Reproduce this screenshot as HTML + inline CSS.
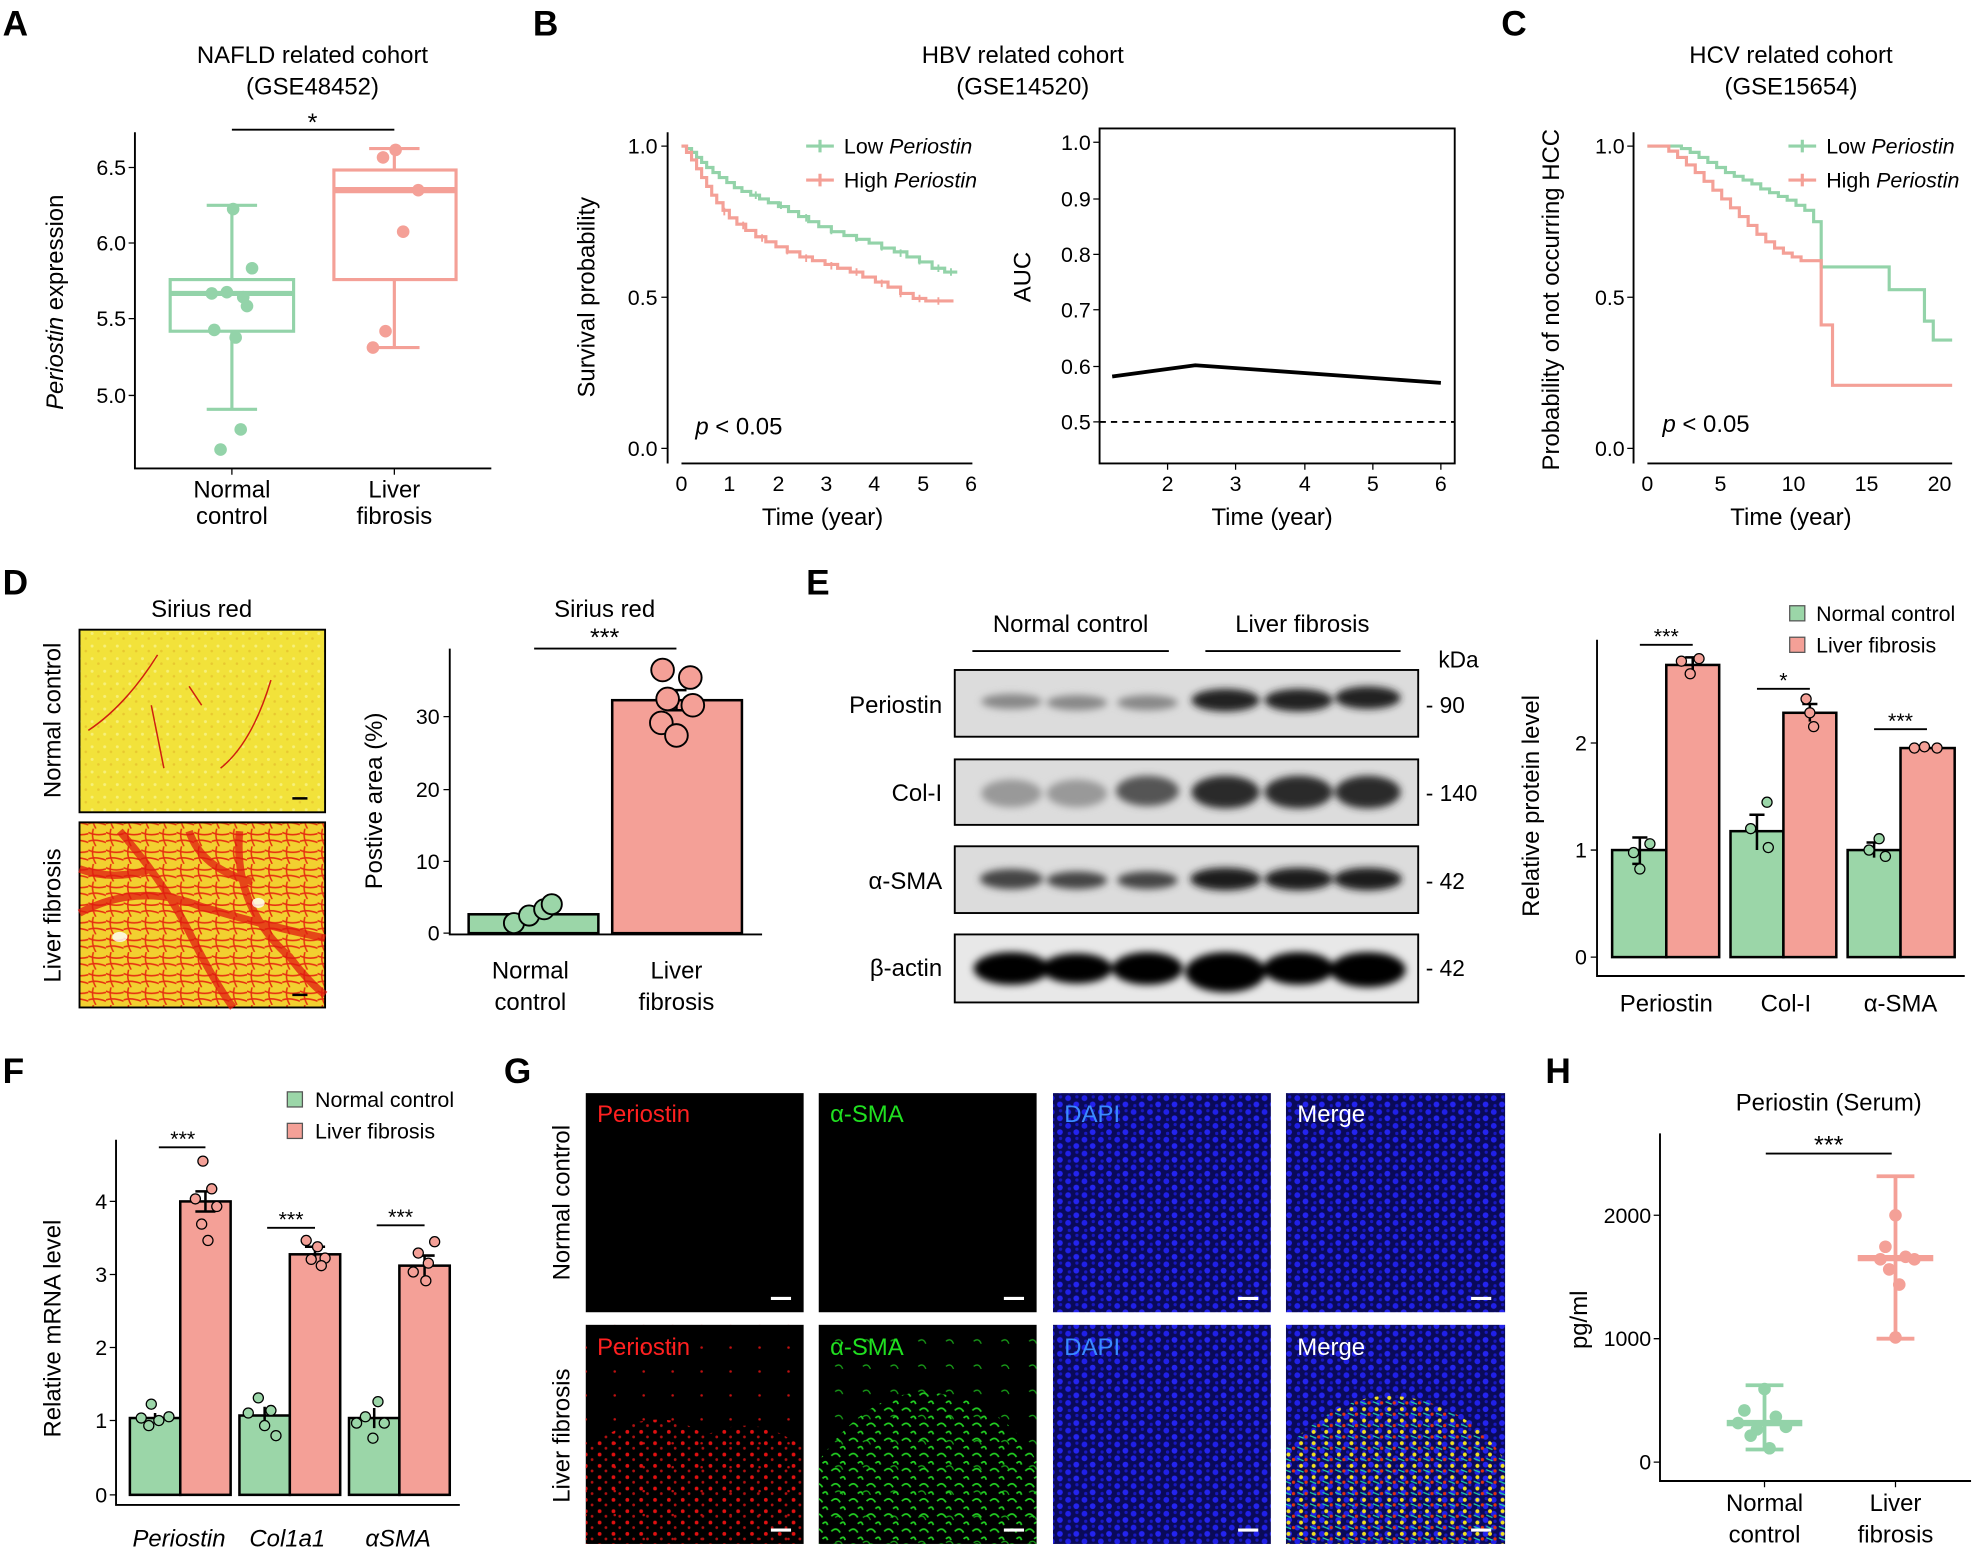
<!DOCTYPE html>
<html><head><meta charset="utf-8"><style>html,body{margin:0;padding:0;background:#fff}svg{display:block}text{font-family:"Liberation Sans",sans-serif}</style></head>
<body>
<svg width="1975" height="1549" viewBox="0 0 1568 1230" xmlns="http://www.w3.org/2000/svg" fill="#000">
<defs>
<pattern id="dapi" width="13" height="11" patternUnits="userSpaceOnUse"><rect width="13" height="11" fill="#0a0a5a"/><circle cx="3" cy="3" r="2.3" fill="#2020e8"/><circle cx="9.5" cy="8" r="2.3" fill="#2424f0"/><circle cx="10" cy="2" r="1.3" fill="#1818c0"/><circle cx="4" cy="9" r="1.3" fill="#1818c0"/></pattern>
<pattern id="sy" width="10" height="10" patternUnits="userSpaceOnUse"><rect width="10" height="10" fill="#f2e23a"/><circle cx="3" cy="3" r="1.2" fill="#f7f07a"/><circle cx="8" cy="7" r="1" fill="#e8c830"/></pattern>
<pattern id="sr" width="14" height="14" patternUnits="userSpaceOnUse"><rect width="14" height="14" fill="#f2d030"/><path d="M0 3 Q7 6 14 4 M0 10 Q6 8 14 11 M4 0 Q2 7 6 14" stroke="#e63010" stroke-width="1.2" fill="none"/></pattern>
<pattern id="rd" width="11" height="9" patternUnits="userSpaceOnUse"><rect width="11" height="9" fill="none"/><circle cx="3" cy="3" r="1.5" fill="#e01010"/><circle cx="8" cy="7" r="1.1" fill="#b01010"/></pattern>
<pattern id="rs" width="23" height="19" patternUnits="userSpaceOnUse"><circle cx="5" cy="6" r="1" fill="#c01010"/></pattern>
<pattern id="gd" width="14" height="12" patternUnits="userSpaceOnUse"><path d="M2 4 Q6 0 9 5 M9 10 Q12 7 13 11" stroke="#22d022" stroke-width="1.4" fill="none"/></pattern>
<pattern id="gs" width="22" height="20" patternUnits="userSpaceOnUse"><path d="M3 5 Q7 2 9 7" stroke="#18a018" stroke-width="1" fill="none"/></pattern>
<pattern id="yd" width="10" height="9" patternUnits="userSpaceOnUse"><circle cx="3" cy="3" r="1.6" fill="#f0e020"/><circle cx="7" cy="7" r="1.3" fill="#e03010"/><path d="M0 6 L5 8" stroke="#20d0a0" stroke-width="1"/></pattern>
<clipPath id="cr"><path d="M465 1226 L465 1150 Q520 1110 560 1140 Q600 1120 638 1150 L638 1226Z"/></clipPath>
<clipPath id="cg"><path d="M650 1226 L650 1160 Q700 1090 760 1110 Q800 1120 823 1160 L823 1226Z"/></clipPath>
<clipPath id="cm"><path d="M1021 1226 L1021 1150 Q1070 1100 1120 1110 Q1170 1120 1195 1160 L1195 1226Z"/></clipPath>
</defs>

<g font-weight="bold" font-size="28">
<text x="2" y="28">A</text><text x="423" y="28">B</text><text x="1192" y="28">C</text>
<text x="2" y="472">D</text><text x="640" y="472">E</text>
<text x="2" y="860">F</text><text x="400" y="860">G</text><text x="1227" y="860">H</text>
</g>

<!-- Panel A -->
<g font-size="19" text-anchor="middle">
<text x="248" y="50">NAFLD related cohort</text><text x="248" y="75">(GSE48452)</text>
<text x="184" y="395">Normal</text><text x="184" y="416">control</text>
<text x="313" y="395">Liver</text><text x="313" y="416">fibrosis</text>
</g>
<path d="M107 105V372H390" stroke="#000" stroke-width="1.5" fill="none"/>
<g font-size="17" text-anchor="end"><text x="100" y="139">6.5</text><text x="100" y="199">6.0</text><text x="100" y="259">5.5</text><text x="100" y="320">5.0</text></g>
<path d="M102 133H107M102 193H107M102 253H107M102 314H107M184 372V377M313 372V377" stroke="#000"/>
<text transform="translate(50,240) rotate(-90)" font-size="19" text-anchor="middle"><tspan font-style="italic">Periostin</tspan> expression</text>
<path d="M184 103H313" stroke="#000" stroke-width="1.5"/><text x="248" y="104" font-size="20" text-anchor="middle">*</text>
<g stroke="#93d3a9" stroke-width="2.5" fill="none"><rect x="135" y="222" width="98" height="41"/><path d="M135 233H233" stroke-width="4"/><path d="M184 222V163M184 263V325M164 163H204M164 325H204"/></g>
<g fill="#93d3a9"><circle cx="175" cy="357" r="5"/><circle cx="191" cy="341" r="5"/><circle cx="187" cy="268" r="5"/><circle cx="170" cy="262" r="5"/><circle cx="200" cy="213" r="5"/><circle cx="193" cy="236" r="5"/><circle cx="168" cy="233" r="5"/><circle cx="196" cy="243" r="5"/><circle cx="185" cy="166" r="5"/><circle cx="180" cy="232" r="5"/></g>
<g stroke="#f4a097" stroke-width="2.5" fill="none"><rect x="265" y="135" width="97" height="87"/><path d="M265 151H362" stroke-width="5"/><path d="M313 135V118M313 222V276M293 118H333M293 276H333"/></g>
<g fill="#f4a097"><circle cx="314" cy="119" r="5"/><circle cx="304" cy="125" r="5"/><circle cx="320" cy="184" r="5"/><circle cx="306" cy="263" r="5"/><circle cx="296" cy="276" r="5"/><circle cx="332" cy="151" r="5"/></g>

<!-- Panel B -->
<g font-size="19" text-anchor="middle"><text x="812" y="50">HBV related cohort</text><text x="812" y="75">(GSE14520)</text>
<text x="653" y="417">Time (year)</text><text x="1010" y="417">Time (year)</text></g>
<path d="M530 105V368M541 368H772" stroke="#000" stroke-width="1.5" fill="none"/>
<g font-size="17" text-anchor="end"><text x="522" y="122">1.0</text><text x="522" y="242">0.5</text><text x="522" y="362">0.0</text></g>
<path d="M525 116H530M525 236H530M525 356H530" stroke="#000"/>
<g font-size="17" text-anchor="middle"><text x="541" y="390">0</text><text x="579" y="390">1</text><text x="618" y="390">2</text><text x="656" y="390">3</text><text x="694" y="390">4</text><text x="733" y="390">5</text><text x="771" y="390">6</text></g>
<text transform="translate(472,236) rotate(-90)" font-size="19" text-anchor="middle">Survival probability</text>
<text x="552" y="345" font-size="19"><tspan font-style="italic">p</tspan> &lt; 0.05</text>
<path d="M541 116H545V118H549V121H553V125H557V129H561V133H566V137H571V141H577V145H583V149H589V152H596V155H603V158H610V161H618V164H626V168H634V172H642V176H650V180H660V184H670V187H680V190H690V193H700V197H710V200H720V204H730V208H740V213H750V216H760" stroke="#93d3a9" stroke-width="2.5" fill="none"/>
<path d="M541 116H545V121H549V127H553V134H557V141H561V148H565V155H569V161H574V167H579V173H585V178H592V183H600V188H608V192H616V196H625V200H635V204H645V207H655V210H665V213H675V216H685V220H695V224H705V228H715V233H725V237H735V239H757" stroke="#f4a097" stroke-width="2.5" fill="none"/>
<g stroke="#93d3a9" stroke-width="1.5"><path d="M600 152v6M620 160v6M640 170v6M660 180v6M680 186v6M700 193v6M715 198v6M730 204v6M745 210v6M755 213v6"/></g>
<g stroke="#f4a097" stroke-width="1.5"><path d="M575 165v6M590 176v6M605 186v6M625 196v6M640 202v6M660 208v6M680 213v6M700 222v6M715 230v6M730 234v6M745 236v6"/></g>
<path d="M640 116H662M651 111V121" stroke="#93d3a9" stroke-width="2.5"/><path d="M640 143H662M651 138V148" stroke="#f4a097" stroke-width="2.5"/>
<text x="670" y="122" font-size="17">Low  <tspan font-style="italic">Periostin</tspan></text><text x="670" y="149" font-size="17">High <tspan font-style="italic">Periostin</tspan></text>
<rect x="873" y="102" width="282" height="266" fill="none" stroke="#000" stroke-width="1.5"/>
<g font-size="17" text-anchor="end"><text x="866" y="119">1.0</text><text x="866" y="164">0.9</text><text x="866" y="208">0.8</text><text x="866" y="252">0.7</text><text x="866" y="297">0.6</text><text x="866" y="341">0.5</text></g>
<path d="M868 113H873M868 158H873M868 202H873M868 246H873M868 291H873M868 335H873M927 368V373M981 368V373M1036 368V373M1090 368V373M1144 368V373" stroke="#000"/>
<g font-size="17" text-anchor="middle"><text x="927" y="390">2</text><text x="981" y="390">3</text><text x="1036" y="390">4</text><text x="1090" y="390">5</text><text x="1144" y="390">6</text></g>
<text transform="translate(818,220) rotate(-90)" font-size="19" text-anchor="middle">AUC</text>
<path d="M883 299L949 290L1144 304" stroke="#000" stroke-width="3" fill="none"/>
<path d="M873 335H1155" stroke="#000" stroke-width="1.5" stroke-dasharray="5,4"/>

<!-- Panel C -->
<g font-size="19" text-anchor="middle"><text x="1422" y="50">HCV related cohort</text><text x="1422" y="75">(GSE15654)</text><text x="1422" y="417">Time (year)</text></g>
<path d="M1297 105V368M1308 368H1550" stroke="#000" stroke-width="1.5" fill="none"/>
<g font-size="17" text-anchor="end"><text x="1290" y="122">1.0</text><text x="1290" y="242">0.5</text><text x="1290" y="362">0.0</text></g>
<path d="M1292 116H1297M1292 236H1297M1292 356H1297" stroke="#000"/>
<g font-size="17" text-anchor="middle"><text x="1308" y="390">0</text><text x="1366" y="390">5</text><text x="1424" y="390">10</text><text x="1482" y="390">15</text><text x="1540" y="390">20</text></g>
<text transform="translate(1238,238) rotate(-90)" font-size="19" text-anchor="middle">Probability of not occurring HCC</text>
<text x="1320" y="343" font-size="19"><tspan font-style="italic">p</tspan> &lt; 0.05</text>
<path d="M1308 116H1335V118H1342V121H1349V125H1356V129H1363V133H1370V137H1377V140H1384V143H1391V146H1398V150H1405V153H1412V156H1419V159H1426V163H1433V167H1440V176H1446V212H1500V230H1528V255H1535V270H1550" stroke="#93d3a9" stroke-width="2.5" fill="none"/>
<path d="M1308 116H1325V120H1332V125H1339V131H1346V137H1353V144H1360V151H1367V158H1374V165H1381V172H1388V179H1395V186H1402V192H1409V197H1416V201H1423V204H1430V207H1446V258H1455V306H1550" stroke="#f4a097" stroke-width="2.5" fill="none"/>
<path d="M1420 116H1442M1431 111V121" stroke="#93d3a9" stroke-width="2.5"/><path d="M1420 143H1442M1431 138V148" stroke="#f4a097" stroke-width="2.5"/>
<text x="1450" y="122" font-size="17">Low  <tspan font-style="italic">Periostin</tspan></text><text x="1450" y="149" font-size="17">High <tspan font-style="italic">Periostin</tspan></text>

<!-- Panel D -->
<text x="160" y="490" font-size="19" text-anchor="middle">Sirius red</text>
<rect x="63" y="500" width="195" height="145" fill="url(#sy)" stroke="#000" stroke-width="1.5"/>
<path d="M70 580Q100 560 125 520M150 545L160 560M175 610Q200 590 215 540M120 560L130 610" stroke="#d02010" stroke-width="1.2" fill="none"/>
<rect x="63" y="653" width="195" height="147" fill="url(#sr)" stroke="#000" stroke-width="1.5"/>
<path d="M63 725Q110 700 160 720Q210 735 258 745M95 660Q130 700 150 740Q170 780 185 800M190 660Q185 720 230 760Q245 780 258 790M63 690Q90 700 120 690M150 660Q160 690 200 700" stroke="#e01a10" stroke-width="6" fill="none" opacity="0.75"/>
<ellipse cx="95" cy="744" rx="6" ry="4" fill="#fff" opacity="0.8"/><ellipse cx="205" cy="717" rx="5" ry="4" fill="#fff" opacity="0.8"/>
<path d="M232 634H244M232 790H244" stroke="#000" stroke-width="2"/>
<text transform="translate(48,572) rotate(-90)" font-size="19" text-anchor="middle">Normal control</text>
<text transform="translate(48,727) rotate(-90)" font-size="19" text-anchor="middle">Liver fibrosis</text>
<text x="480" y="490" font-size="19" text-anchor="middle">Sirius red</text>
<path d="M357 515V742H605" stroke="#000" stroke-width="1.5" fill="none"/>
<g font-size="17" text-anchor="end"><text x="349" y="747">0</text><text x="349" y="690">10</text><text x="349" y="633">20</text><text x="349" y="575">30</text></g>
<path d="M352 741H357M352 684H357M352 627H357M352 569H357" stroke="#000"/>
<text transform="translate(303,636) rotate(-90)" font-size="19" text-anchor="middle">Postive area (%)</text>
<rect x="372" y="726" width="103" height="15" fill="#9bd6a8" stroke="#000" stroke-width="2"/>
<rect x="486" y="556" width="103" height="185" fill="#f4a097" stroke="#000" stroke-width="2"/>
<path d="M537 548V564M529 548H545M529 564H545" stroke="#000" stroke-width="2"/>
<g fill="#9bd6a8" stroke="#000" stroke-width="1.5"><circle cx="408" cy="733" r="8"/><circle cx="420" cy="727" r="8"/><circle cx="432" cy="722" r="8"/><circle cx="438" cy="718" r="8"/></g>
<g fill="#f4a097" stroke="#000" stroke-width="1.5"><circle cx="526" cy="532" r="9"/><circle cx="548" cy="538" r="9"/><circle cx="530" cy="555" r="9"/><circle cx="550" cy="560" r="9"/><circle cx="525" cy="574" r="9"/><circle cx="537" cy="584" r="9"/></g>
<path d="M424 515H537" stroke="#000" stroke-width="1.5"/><text x="480" y="513" font-size="20" text-anchor="middle">***</text>
<g font-size="19" text-anchor="middle"><text x="421" y="777">Normal</text><text x="421" y="802">control</text><text x="537" y="777">Liver</text><text x="537" y="802">fibrosis</text></g>

<!-- Panel E blots -->
<g font-size="19" text-anchor="middle"><text x="850" y="502">Normal control</text><text x="1034" y="502">Liver fibrosis</text></g>
<path d="M772 517H928M957 517H1112" stroke="#000" stroke-width="1.5"/>
<text x="1158" y="530" font-size="18" text-anchor="middle">kDa</text>
<g font-size="19" text-anchor="end"><text x="748" y="566">Periostin</text><text x="748" y="636">Col-I</text><text x="748" y="706">α-SMA</text><text x="748" y="775">β-actin</text></g>
<g font-size="18"><text x="1132" y="566">- 90</text><text x="1132" y="636">- 140</text><text x="1132" y="706">- 42</text><text x="1132" y="775">- 42</text></g>
<g stroke="#000" stroke-width="1.5" fill="#dcdcdc"><rect x="758" y="532" width="368" height="53"/><rect x="758" y="603" width="368" height="52"/><rect x="758" y="672" width="368" height="53"/><rect x="758" y="742" width="368" height="54" fill="#e8e8e8"/></g>
<g filter="url(#bl)">
</g>
<defs><filter id="bl2" x="-20%" y="-50%" width="140%" height="200%"><feGaussianBlur stdDeviation="3"/></filter></defs>
<g filter="url(#bl2)">
<g fill="#888"><ellipse cx="803" cy="557" rx="24" ry="6"/><ellipse cx="855" cy="558" rx="24" ry="6"/><ellipse cx="911" cy="558" rx="24" ry="6"/></g>
<g fill="#222"><ellipse cx="973" cy="556" rx="27" ry="9"/><ellipse cx="1031" cy="556" rx="27" ry="9"/><ellipse cx="1086" cy="554" rx="26" ry="9"/></g>
<g fill="#999"><ellipse cx="803" cy="630" rx="24" ry="11"/><ellipse cx="855" cy="630" rx="24" ry="11"/></g><ellipse cx="911" cy="628" rx="25" ry="12" fill="#555"/>
<g fill="#2a2a2a"><ellipse cx="973" cy="629" rx="27" ry="13"/><ellipse cx="1031" cy="629" rx="27" ry="13"/><ellipse cx="1086" cy="629" rx="26" ry="13"/></g>
<g fill="#444"><ellipse cx="803" cy="698" rx="25" ry="8"/><ellipse cx="855" cy="699" rx="24" ry="7"/><ellipse cx="911" cy="699" rx="24" ry="7"/></g>
<g fill="#1a1a1a"><ellipse cx="973" cy="698" rx="28" ry="9"/><ellipse cx="1031" cy="698" rx="27" ry="9"/><ellipse cx="1086" cy="698" rx="27" ry="9"/></g>
<g fill="#000"><ellipse cx="803" cy="769" rx="30" ry="13"/><ellipse cx="855" cy="769" rx="28" ry="12"/><ellipse cx="911" cy="769" rx="28" ry="13"/><ellipse cx="973" cy="772" rx="32" ry="16"/><ellipse cx="1031" cy="769" rx="28" ry="13"/><ellipse cx="1086" cy="770" rx="30" ry="14"/></g>
</g>

<!-- Panel E bars -->
<path d="M1268 508V775H1560" stroke="#000" stroke-width="1.5" fill="none"/>
<g font-size="17" text-anchor="end"><text x="1260" y="766">0</text><text x="1260" y="681">1</text><text x="1260" y="596">2</text></g>
<path d="M1263 760H1268M1263 675H1268M1263 590H1268" stroke="#000"/>
<text transform="translate(1222,640) rotate(-90)" font-size="19" text-anchor="middle">Relative protein level</text>
<g stroke="#000" stroke-width="2"><rect x="1280" y="675" width="43" height="85" fill="#9bd6a8"/><rect x="1323" y="528" width="42" height="232" fill="#f4a097"/><rect x="1374" y="660" width="42" height="100" fill="#9bd6a8"/><rect x="1416" y="566" width="42" height="194" fill="#f4a097"/><rect x="1467" y="675" width="42" height="85" fill="#9bd6a8"/><rect x="1509" y="594" width="43" height="166" fill="#f4a097"/>
<path d="M1302 665V686M1296 665H1308M1296 686H1302M1344 522V534M1338 522H1350M1395 647V675M1389 647H1401M1437 559V573M1431 559H1443M1488 669V681M1482 669H1494M1530 592V596" fill="none"/></g>
<g stroke="#000" stroke-width="1"><g fill="#9bd6a8"><circle cx="1310" cy="670" r="4"/><circle cx="1297" cy="677" r="4"/><circle cx="1302" cy="690" r="4"/><circle cx="1403" cy="637" r="4"/><circle cx="1390" cy="658" r="4"/><circle cx="1404" cy="673" r="4"/><circle cx="1492" cy="666" r="4"/><circle cx="1484" cy="675" r="4"/><circle cx="1497" cy="680" r="4"/></g>
<g fill="#f4a097"><circle cx="1335" cy="525" r="4"/><circle cx="1349" cy="523" r="4"/><circle cx="1342" cy="535" r="4"/><circle cx="1434" cy="555" r="4"/><circle cx="1437" cy="566" r="4"/><circle cx="1440" cy="577" r="4"/><circle cx="1520" cy="594" r="4"/><circle cx="1528" cy="593" r="4"/><circle cx="1538" cy="594" r="4"/></g></g>
<path d="M1302 512H1344M1395 547H1437M1488 579H1530" stroke="#000" stroke-width="1.5"/>
<g font-size="17" text-anchor="middle"><text x="1323" y="511">***</text><text x="1416" y="546">*</text><text x="1509" y="578">***</text></g>
<rect x="1421" y="481" width="12" height="12" fill="#9bd6a8" stroke="#555"/><rect x="1421" y="506" width="12" height="12" fill="#f4a097" stroke="#555"/>
<g font-size="17"><text x="1442" y="493">Normal control</text><text x="1442" y="518">Liver fibrosis</text></g>
<g font-size="19" text-anchor="middle"><text x="1323" y="803">Periostin</text><text x="1418" y="803">Col-I</text><text x="1509" y="803">α-SMA</text></g>

<!-- Panel F -->
<path d="M92 905V1195H365" stroke="#000" stroke-width="1.5" fill="none"/>
<g font-size="17" text-anchor="end"><text x="85" y="1193">0</text><text x="85" y="1134">1</text><text x="85" y="1076">2</text><text x="85" y="1018">3</text><text x="85" y="960">4</text></g>
<path d="M87 1187H92M87 1128H92M87 1070H92M87 1012H92M87 954H92" stroke="#000"/>
<text transform="translate(48,1055) rotate(-90)" font-size="19" text-anchor="middle">Relative  mRNA level</text>
<g stroke="#000" stroke-width="2"><rect x="103" y="1126" width="40" height="61" fill="#9bd6a8"/><rect x="143" y="954" width="40" height="233" fill="#f4a097"/><rect x="190" y="1124" width="40" height="63" fill="#9bd6a8"/><rect x="230" y="996" width="40" height="191" fill="#f4a097"/><rect x="277" y="1126" width="40" height="61" fill="#9bd6a8"/><rect x="317" y="1005" width="40" height="182" fill="#f4a097"/>
<path d="M163 946V962M155 946H171M155 962H171M250 990V1002M242 990H258M337 997V1013M329 997H345M123 1122V1130M210 1117V1131M297 1118V1134" fill="none"/></g>
<g stroke="#000" stroke-width="1"><g fill="#9bd6a8"><circle cx="120" cy="1115" r="4"/><circle cx="112" cy="1126" r="4"/><circle cx="126" cy="1128" r="4"/><circle cx="134" cy="1125" r="4"/><circle cx="118" cy="1132" r="4"/><circle cx="205" cy="1110" r="4"/><circle cx="197" cy="1122" r="4"/><circle cx="215" cy="1120" r="4"/><circle cx="210" cy="1132" r="4"/><circle cx="219" cy="1140" r="4"/><circle cx="300" cy="1113" r="4"/><circle cx="290" cy="1125" r="4"/><circle cx="305" cy="1130" r="4"/><circle cx="296" cy="1142" r="4"/><circle cx="283" cy="1130" r="4"/></g>
<g fill="#f4a097"><circle cx="161" cy="922" r="4"/><circle cx="168" cy="944" r="4"/><circle cx="155" cy="952" r="4"/><circle cx="172" cy="958" r="4"/><circle cx="160" cy="972" r="4"/><circle cx="165" cy="985" r="4"/><circle cx="243" cy="985" r="4"/><circle cx="252" cy="990" r="4"/><circle cx="258" cy="999" r="4"/><circle cx="247" cy="1000" r="4"/><circle cx="255" cy="1005" r="4"/><circle cx="345" cy="986" r="4"/><circle cx="332" cy="995" r="4"/><circle cx="340" cy="1003" r="4"/><circle cx="328" cy="1010" r="4"/><circle cx="338" cy="1017" r="4"/></g></g>
<path d="M126 911H163M212 975H250M299 973H337" stroke="#000" stroke-width="1.5"/>
<g font-size="17" text-anchor="middle"><text x="145" y="910">***</text><text x="231" y="974">***</text><text x="318" y="972">***</text></g>
<rect x="228" y="867" width="12" height="12" fill="#9bd6a8" stroke="#555"/><rect x="228" y="892" width="12" height="12" fill="#f4a097" stroke="#555"/>
<g font-size="17"><text x="250" y="879">Normal control</text><text x="250" y="904">Liver fibrosis</text></g>
<g font-size="19" text-anchor="middle" font-style="italic"><text x="142" y="1228">Periostin</text><text x="228" y="1228">Col1a1</text><text x="316" y="1228">αSMA</text></g>

<!-- Panel G -->
<rect x="465" y="868" width="173" height="174" fill="#000"/>
<rect x="650" y="868" width="173" height="174" fill="#000"/>
<rect x="836" y="868" width="173" height="174" fill="url(#dapi)"/>
<rect x="1021" y="868" width="174" height="174" fill="url(#dapi)"/>
<rect x="465" y="1052" width="173" height="174" fill="#000"/>
<rect x="465" y="1052" width="173" height="174" fill="url(#rs)"/>
<rect x="465" y="1100" width="173" height="126" fill="url(#rd)" clip-path="url(#cr)"/>
<rect x="650" y="1052" width="173" height="174" fill="#000"/>
<rect x="650" y="1052" width="173" height="174" fill="url(#gs)"/>
<rect x="650" y="1080" width="173" height="146" fill="url(#gd)" clip-path="url(#cg)"/>
<rect x="836" y="1052" width="173" height="174" fill="url(#dapi)"/>
<rect x="1021" y="1052" width="174" height="174" fill="url(#dapi)"/>
<rect x="1021" y="1090" width="174" height="136" fill="url(#yd)" clip-path="url(#cm)"/>
<g font-size="19"><text x="474" y="891" fill="#ff2020">Periostin</text><text x="659" y="891" fill="#20e020">α-SMA</text><text x="845" y="891" fill="#3a8aff">DAPI</text><text x="1030" y="891" fill="#fff">Merge</text>
<text x="474" y="1076" fill="#ff2020">Periostin</text><text x="659" y="1076" fill="#20e020">α-SMA</text><text x="845" y="1076" fill="#3a8aff">DAPI</text><text x="1030" y="1076" fill="#fff">Merge</text></g>
<path d="M612 1031H628M797 1031H813M983 1031H999M1168 1031H1184M612 1215H628M797 1215H813M983 1215H999M1168 1215H1184" stroke="#fff" stroke-width="2.5"/>
<text transform="translate(452,955) rotate(-90)" font-size="19" text-anchor="middle">Normal control</text>
<text transform="translate(452,1140) rotate(-90)" font-size="19" text-anchor="middle">Liver fibrosis</text>

<!-- Panel H -->
<text x="1452" y="882" font-size="19" text-anchor="middle">Periostin (Serum)</text>
<path d="M1318 900V1176H1565" stroke="#000" stroke-width="1.5" fill="none"/>
<g font-size="17" text-anchor="end"><text x="1311" y="1167">0</text><text x="1311" y="1069">1000</text><text x="1311" y="971">2000</text></g>
<path d="M1313 1161H1318M1313 1063H1318M1313 965H1318M1401 1176V1181M1505 1176V1181" stroke="#000"/>
<text transform="translate(1260,1048) rotate(-90)" font-size="19" text-anchor="middle">pg/ml</text>
<path d="M1402 916H1502" stroke="#000" stroke-width="1.5"/><text x="1452" y="916" font-size="20" text-anchor="middle">***</text>
<g stroke="#93d3a9" stroke-width="3"><path d="M1401 1100V1151M1386 1100H1416M1386 1151H1416"/><path d="M1371 1130H1431" stroke-width="5"/></g>
<g fill="#93d3a9"><circle cx="1401" cy="1103" r="5"/><circle cx="1385" cy="1120" r="5"/><circle cx="1410" cy="1125" r="5"/><circle cx="1395" cy="1135" r="5"/><circle cx="1418" cy="1133" r="5"/><circle cx="1390" cy="1140" r="5"/><circle cx="1405" cy="1150" r="5"/><circle cx="1380" cy="1130" r="5"/></g>
<g stroke="#f4a097" stroke-width="3"><path d="M1505 934V1063M1490 934H1520M1490 1063H1520"/><path d="M1475 999H1535" stroke-width="5"/></g>
<g fill="#f4a097"><circle cx="1505" cy="965" r="5"/><circle cx="1497" cy="990" r="5"/><circle cx="1513" cy="998" r="5"/><circle cx="1520" cy="1000" r="5"/><circle cx="1500" cy="1008" r="5"/><circle cx="1508" cy="1020" r="5"/><circle cx="1493" cy="1000" r="5"/><circle cx="1505" cy="1062" r="5"/></g>
<g font-size="19" text-anchor="middle"><text x="1401" y="1200">Normal</text><text x="1401" y="1225">control</text><text x="1505" y="1200">Liver</text><text x="1505" y="1225">fibrosis</text></g>
</svg>
</body></html>
